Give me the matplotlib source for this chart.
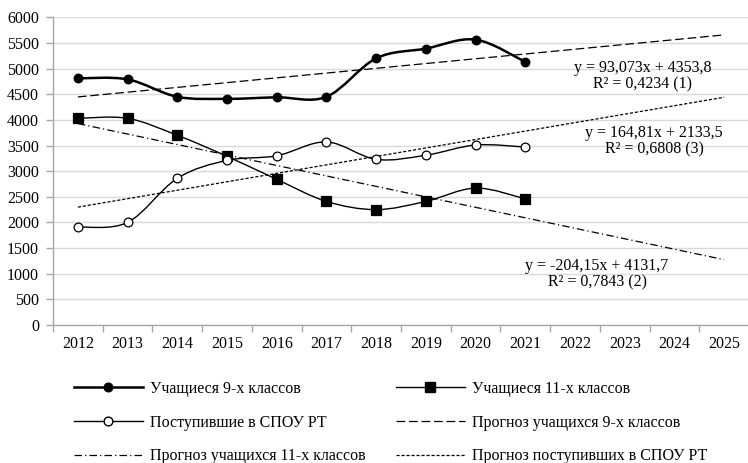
import numpy as np
import matplotlib
matplotlib.use("Agg")
import matplotlib.pyplot as plt
from matplotlib.path import Path
from matplotlib.patches import PathPatch
from matplotlib.lines import Line2D

plt.rcParams['font.family'] = ['Liberation Serif', 'DejaVu Serif']

years = [2012, 2013, 2014, 2015, 2016, 2017, 2018, 2019, 2020, 2021, 2022, 2023, 2024, 2025]
pupils9 = [4810, 4790, 4450, 4410, 4440, 4450, 5200, 5390, 5565, 5130]
pupils11 = [4030, 4030, 3700, 3290, 2840, 2410, 2250, 2410, 2670, 2460]
enrolled = [1910, 2000, 2860, 3210, 3300, 3570, 3230, 3310, 3510, 3470]

# trend coefficients (slope, intercept), x = 1..14
trend9 = (93.073, 4353.8)
trend11 = (-204.15, 4131.7)
trend_enr = (164.81, 2133.5)

labels = ["Учащиеся 9-х классов", "Учащиеся 11-х классов", "Поступившие в СПОУ РТ",
          "Прогноз учащихся 9-х классов", "Прогноз учащихся 11-х классов",
          "Прогноз поступивших в СПОУ РТ"]
eq_texts = ["y = 93,073x + 4353,8\nR² = 0,4234 (1)",
            "y = -204,15x + 4131,7\nR² = 0,7843 (2)",
            "y = 164,81x + 2133,5\nR² = 0,6808 (3)"]

FS = 11.5
W, H = 748, 463
fig = plt.figure(figsize=(W / 100, H / 100), dpi=100)
ax = fig.add_axes([53/W, 1-325/H, 696/W, (325-17.3)/H])

def smooth_path(xs, ys):
    pts = np.column_stack([xs, ys]).astype(float)
    n = len(pts)
    verts = [pts[0]]
    codes = [Path.MOVETO]
    for i in range(n - 1):
        p0 = pts[i - 1] if i > 0 else pts[i]
        p1 = pts[i]
        p2 = pts[i + 1]
        p3 = pts[i + 2] if i + 2 < n else pts[i + 1]
        c1 = p1 + (p2 - p0) / 6.0
        c2 = p2 - (p3 - p1) / 6.0
        verts += [c1, c2, p2]
        codes += [Path.CURVE4] * 3
    return Path(verts, codes)

xs = np.arange(1, len(pupils9) + 1)
series = [
    (pupils9, 'o', 'black', 1.8, 6.2),
    (pupils11, 's', 'black', 1.0, 6.5),
    (enrolled, 'o', 'white', 1.0, 6.3),
]
for vals, mk, fc, lw, ms in series:
    ax.add_patch(PathPatch(smooth_path(xs, vals), fill=False, lw=lw, ec='black', zorder=3))
    ax.plot(xs, vals, ls='none', marker=mk, ms=ms, mfc=fc, mec='black', mew=0.9, zorder=4)

xt = np.arange(1, len(years) + 1)
for (a, b), ls in [(trend9, (0, (7, 3))), (trend11, (0, (6, 2.5, 1, 2.5))), (trend_enr, (0, (2.5, 1.5)))]:
    ax.plot(xt, a * xt + b, color='black', lw=0.9, ls=ls, zorder=2)

for txt, (px, py) in zip(eq_texts, [(642.5, 76), (597, 274), (654, 141)]):
    fig.text(px / W, 1 - py / H, txt, ha='center', va='center', fontsize=FS, linespacing=1.05)

ax.set_xlim(0.5, len(years) + 0.5)
ax.set_ylim(0, 6000)
ax.set_yticks(np.arange(0, 6001, 500))
ax.set_xticks(xt)
ax.set_xticklabels([str(y) for y in years])
ax.set_xticks(np.arange(0.5, len(years) + 1, 1), minor=True)
ax.tick_params(axis='x', which='major', length=0, pad=8, labelsize=FS)
ax.tick_params(axis='x', which='minor', length=5, color='#a6a6a6', width=1)
ax.tick_params(axis='y', length=5, color='#a6a6a6', width=1, pad=5, labelsize=FS)
ax.grid(axis='y', color='#d9d9d9', lw=1)
ax.set_axisbelow(True)
for s in ['top', 'right']:
    ax.spines[s].set_visible(False)
for s in ['left', 'bottom']:
    ax.spines[s].set_color('#a6a6a6')
    ax.spines[s].set_linewidth(1)

h = [
    Line2D([], [], color='black', lw=1.8, marker='o', ms=6.2, mfc='black', mec='black'),
    Line2D([], [], color='black', lw=1.0, marker='o', ms=6.3, mfc='white', mec='black'),
    Line2D([], [], color='black', lw=0.9, ls=(0, (6, 2.5, 1, 2.5))),
    Line2D([], [], color='black', lw=1.0, marker='s', ms=6.5, mfc='black', mec='black'),
    Line2D([], [], color='black', lw=0.9, ls=(0, (7, 3))),
    Line2D([], [], color='black', lw=0.9, ls=(0, (2.5, 1.5))),
]
hl = [labels[0], labels[2], labels[4], labels[1], labels[3], labels[5]]
fig.legend(h, hl, ncol=2, loc='upper left', bbox_to_anchor=(74/W, 1 - 381/H),
           frameon=False, fontsize=FS, handlelength=4.3, handletextpad=0.45,
           columnspacing=1.9, labelspacing=1.1, borderpad=0, borderaxespad=0, numpoints=1)

fig.savefig("out.png", dpi=100)
